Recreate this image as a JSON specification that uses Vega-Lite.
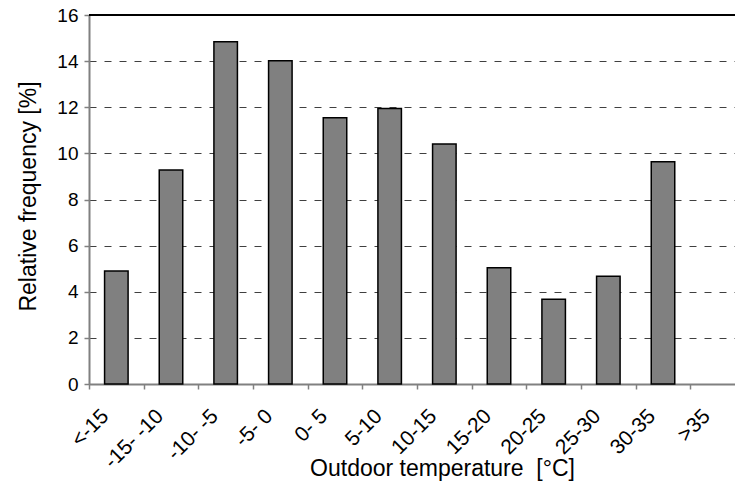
{
  "$schema": "https://vega.github.io/schema/vega-lite/v6.json",
  "width": 646,
  "height": 369,
  "autosize": {"type": "none"},
  "padding": {"left": 89, "top": 15, "right": 0, "bottom": 100},
  "background": "white",
  "config": {
    "view": {"stroke": null},
    "font": "Liberation Sans",
    "axis": {"labelFont": "Liberation Sans", "titleFont": "Liberation Sans"}
  },
  "data": {
    "values": [
      {"range": "<-15", "freq": 4.9},
      {"range": "-15- -10", "freq": 9.28},
      {"range": "-10- -5", "freq": 14.84},
      {"range": "-5- 0", "freq": 14.02},
      {"range": "0- 5", "freq": 11.55},
      {"range": "5-10", "freq": 11.95},
      {"range": "10-15", "freq": 10.41},
      {"range": "15-20", "freq": 5.04},
      {"range": "20-25", "freq": 3.67},
      {"range": "25-30", "freq": 4.67},
      {"range": "30-35", "freq": 9.64}
    ]
  },
  "layer": [
    {
      "mark": {"type": "bar", "fill": "#808080", "stroke": "#000000", "strokeWidth": 1.5, "width": {"band": 0.43}},
      "encoding": {
        "x": {
          "field": "range",
          "type": "nominal",
          "sort": null,
          "scale": {
            "domain": ["<-15", "-15- -10", "-10- -5", "-5- 0", "0- 5", "5-10", "10-15", "15-20", "20-25", "25-30", "30-35", ">35"],
            "range": [0, 656],
            "paddingInner": 0,
            "paddingOuter": 0
          },
          "axis": {
            "title": "Outdoor temperature\u00a0 [°C]",
            "titleFontSize": 23,
            "titleFontWeight": "normal",
            "titleColor": "#000000",
            "titleX": 353,
            "titleY": 91,
            "titleAlign": "center",
            "titleBaseline": "alphabetic",
            "tickBand": "extent",
            "domainColor": "#808080",
            "domainWidth": 2,
            "tickColor": "#808080",
            "tickWidth": 1.5,
            "tickSize": 5,
            "labelAngle": -45,
            "labelAlign": "right",
            "labelBaseline": "top",
            "labelFontSize": 21,
            "labelColor": "#000000",
            "labelPadding": 16,
            "labelOffset": -19,
            "labelOverlap": false,
            "grid": false
          }
        },
        "y": {
          "field": "freq",
          "type": "quantitative",
          "scale": {"domain": [0, 16], "nice": false, "zero": true},
          "axis": {
            "title": "Relative frequency [%]",
            "titleFontSize": 23,
            "titleFontWeight": "normal",
            "titleColor": "#000000",
            "titleAngle": 270,
            "titleX": -61,
            "titleY": 181,
            "titleAlign": "center",
            "titleBaseline": "middle",
            "values": [0, 2, 4, 6, 8, 10, 12, 14, 16],
            "grid": true,
            "gridDash": [7, 8],
            "gridColor": "#404040",
            "gridWidth": 1,
            "domainColor": "#808080",
            "domainWidth": 2,
            "tickColor": "#808080",
            "tickWidth": 1.5,
            "tickSize": 5,
            "labelFontSize": 19,
            "labelColor": "#000000",
            "labelPadding": 6
          }
        }
      }
    },
    {
      "data": {"values": [{"top": 16}]},
      "mark": {"type": "rule", "color": "#000000", "strokeWidth": 2},
      "encoding": {"y": {"field": "top", "type": "quantitative"}}
    }
  ]
}
